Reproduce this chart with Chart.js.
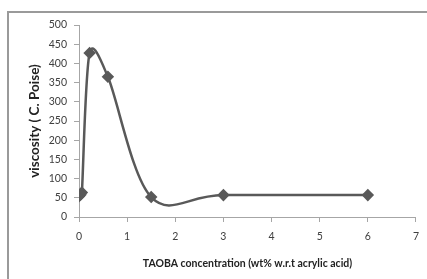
<!DOCTYPE html>
<html>
<head>
<meta charset="utf-8">
<script src="https://cdn.jsdelivr.net/npm/chart.js@4/dist/chart.umd.min.js"></script>
<style>
html,body{margin:0;padding:0;background:#fff;}
#wrap{position:relative;width:427px;height:279px;overflow:hidden;}
#frame{position:absolute;left:7px;top:11px;right:-5px;bottom:-5px;border-left:2px solid #9a9a9a;border-top:2px solid #9a9a9a;}
canvas{position:absolute;left:0;top:0;}
</style>
</head>
<body>
<div id="wrap">
<div id="frame"></div>
<canvas id="c" width="427" height="279"></canvas>
</div>
<script>
const concentration = [0, 0.03, 0.06, 0.22, 0.6, 1.5, 3, 6];
const viscosity = [54, 58, 64, 427, 365, 52, 57, 57];
const xTitle = 'TAOBA concentration (wt% w.r.t acrylic acid)';
const yTitle = 'viscosity ( C. Poise)';

const points = concentration.map((x, i) => ({x: x, y: viscosity[i]}));
const fontFam = 'Lato, "Open Sans", sans-serif';

// Excel-like smoothing: Catmull-Rom control points from the library's own pixel positions,
// each handle limited to half of its segment's chord
const excelSmooth = {
  id: 'excelSmooth',
  afterDatasetsUpdate(chart) {
    chart.data.datasets.forEach((ds, di) => {
      const meta = chart.getDatasetMeta(di);
      const pts = meta.data;
      const n = pts.length;
      const lim = (vx, vy, chord) => {
        const len = Math.hypot(vx, vy);
        const max = 0.5 * chord;
        if (len > max && len > 0) { const s = max / len; return [vx * s, vy * s]; }
        return [vx, vy];
      };
      for (let i = 0; i < n; i++) {
        const p = pts[i];
        const prev = pts[Math.max(0, i - 1)];
        const next = pts[Math.min(n - 1, i + 1)];
        const dx = (next.x - prev.x) / 6;
        const dy = (next.y - prev.y) / 6;
        const cPrev = Math.hypot(p.x - prev.x, p.y - prev.y);
        const cNext = Math.hypot(next.x - p.x, next.y - p.y);
        const a = lim(dx, dy, cPrev);
        const b = lim(dx, dy, cNext);
        p.cp1x = p.x - a[0]; p.cp1y = p.y - a[1];
        p.cp2x = p.x + b[0]; p.cp2y = p.y + b[1];
      }
      if (meta.dataset) meta.dataset._pointsUpdated = true;
    });
  }
};

new Chart(document.getElementById('c'), {
  type: 'scatter',
  data: {
    datasets: [{
      data: points,
      showLine: true,
      borderColor: '#595959',
      backgroundColor: '#595959',
      borderWidth: 2.5,
      tension: 0.4,
      pointStyle: 'rectRot',
      pointRadius: 4.5,
      pointHoverRadius: 4.5
    }]
  },
  plugins: [excelSmooth],
  options: {
    responsive: false,
    animation: false,
    events: [],
    layout: {padding: {left: 0, right: 11, top: 25, bottom: 0}},
    plugins: {legend: {display: false}, tooltip: {enabled: false}},
    scales: {
      x: {
        type: 'linear',
        min: 0, max: 7,
        afterFit: s => { s.height = 62; },
        ticks: {stepSize: 1, color: '#404040', font: {family: fontFam, size: 10.5}, padding: 8},
        grid: {drawOnChartArea: false, drawTicks: true, tickLength: 5, color: '#a6a6a6'},
        border: {display: true, color: '#a6a6a6', width: 1},
        title: {display: true, text: xTitle, color: '#222', font: {family: fontFam, size: 10.5, weight: 'bold'}, padding: {top: 0, bottom: 9}}
      },
      y: {
        min: 0, max: 500,
        afterFit: s => { s.width = 79; },
        ticks: {stepSize: 50, color: '#404040', font: {family: fontFam, size: 10.5}, padding: 7},
        grid: {drawOnChartArea: false, drawTicks: true, tickLength: 5, color: '#a6a6a6'},
        border: {display: true, color: '#a6a6a6', width: 1},
        title: {display: true, text: yTitle, color: '#222', font: {family: fontFam, size: 13.5, weight: 'bold'}, padding: {top: 27, bottom: 27}}
      }
    }
  }
});
</script>
</body>
</html>
